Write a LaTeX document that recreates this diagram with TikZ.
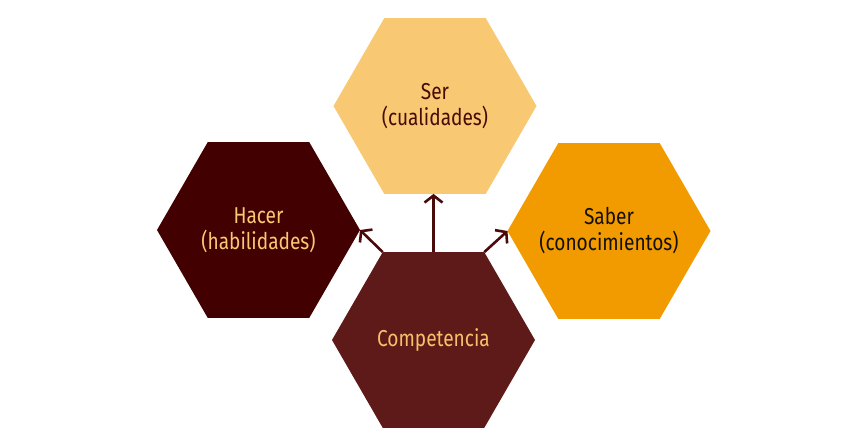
\documentclass[tikz,border=0pt]{standalone}
\usepackage{fontspec}
\setmainfont{Fira Sans}[FakeStretch=0.83]
\usetikzlibrary{shapes.geometric, arrows.meta}

\definecolor{serfill}{HTML}{F8C873}
\definecolor{sertext}{HTML}{4A0A05}
\definecolor{hacerfill}{HTML}{420000}
\definecolor{hacertext}{HTML}{F8C873}
\definecolor{saberfill}{HTML}{F29B00}
\definecolor{sabertext}{HTML}{141008}
\definecolor{compfill}{HTML}{5E1A18}
\definecolor{comptext}{HTML}{F5C26B}
\definecolor{linkcol}{HTML}{4A0A0A}

\begin{document}
\begin{tikzpicture}[x=1pt, y=-1pt,
    hex/.style={regular polygon, regular polygon sides=6, minimum size=203pt,
      inner sep=0pt, outer sep=0pt},
    hextext/.style={align=center, font=\fontsize{23}{26}\selectfont},
    link/.style={-{Straight Barb[length=7pt, width=18pt]}, line width=2.6pt, draw=linkcol}]

    \useasboundingbox (0,0) rectangle (868,447);

    % Draw hexagons
    \foreach \n/\x/\y/\c/\t/\txt in {ser/435/106/serfill/sertext/{Ser\\(cualidades)},
        hacer/258.5/230/hacerfill/hacertext/{Hacer\\(habilidades)},
        saber/609/231/saberfill/sabertext/{Saber\\(conocimientos)},
        comp/433.5/340/compfill/comptext/{Competencia}} {
      \node[hex, fill=\c, label={[hextext, text=\t]center:\txt}] (\n) at (\x,\y) {};
    }

    % Draw arrows from the centre hexagon
    \draw[link] (comp.90) -- (comp.90 |- ser.270);
    \draw[link] (comp.120) -- (hacer.0);
    \draw[link] (comp.60) -- (saber.180);
  \end{tikzpicture}
\end{document}
